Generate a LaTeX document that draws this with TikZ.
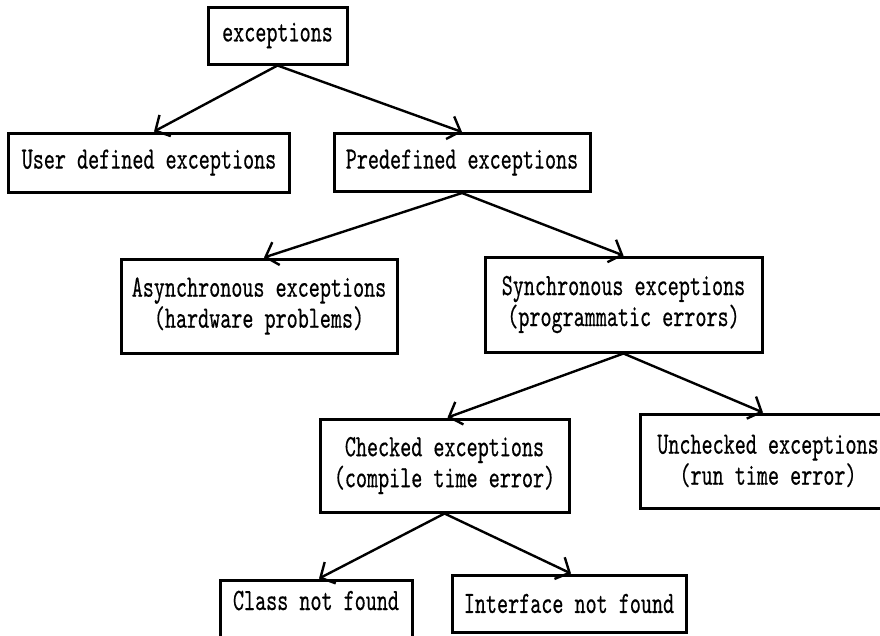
\documentclass[tikz,border=0pt]{standalone}
\usepackage{fontspec}
\usetikzlibrary{arrows.meta}
\newfontfamily\boxfont[FakeStretch=0.68,FakeBold=0.4]{lmmono10-regular.otf}

\begin{document}
\begin{tikzpicture}[x=1pt,y=-1pt,
  box/.style={draw=black, line width=3pt, fill=white, align=center,
    inner sep=0pt, font=\boxfont\fontsize{31}{31}\selectfont},
  link/.style={line width=2.4pt, -{Straight Barb[length=11pt,width=24pt,line width=2.4pt]}}]
  \useasboundingbox[fill=white] (0,0) rectangle (880,635);

  % level 0
  \node[box, minimum width=139pt, minimum height=57pt] (exc) at (277.5,35.5) {exceptions};

  % level 1
  \node[box, minimum width=281pt, minimum height=59pt] (user) at (149,162.5) {User defined exceptions};
  \node[box, minimum width=256pt, minimum height=58pt] (pre) at (462,162.5) {Predefined exceptions};

  % level 2
  \node[box, minimum width=276pt, minimum height=94pt] (async) at (259,306)
    {Asynchronous exceptions\\(hardware problems)};
  \node[box, minimum width=277pt, minimum height=95pt] (sync) at (623.5,304.5)
    {Synchronous exceptions\\(programmatic errors)};

  % level 3
  \node[box, minimum width=249pt, minimum height=93pt] (checked) at (444.5,465.5)
    {Checked exceptions\\(compile time error)};
  \node[box, minimum width=256pt, minimum height=94pt] (unchecked) at (768,461)
    {Unchecked exceptions\\(run time error)};

  % level 4
  \node[box, minimum width=192pt, text height=30pt, text depth=50pt, anchor=base]
    (class) at (316,610) {Class not found};
  \node[box, minimum width=234pt, minimum height=57pt] (iface) at (569,603.5)
    {Interface not found};

  % connectors
  \draw[link] (exc.south) -- ([xshift=5pt]user.north);
  \draw[link] (exc.south) -- (pre.north);
  \draw[link] (pre.south) -- ([xshift=5pt]async.north);
  \draw[link] (pre.south) -- (sync.north);
  \draw[link] (sync.south) -- ([xshift=3pt]checked.north);
  \draw[link] (sync.south) -- ([xshift=-5pt]unchecked.north);
  \draw[link] (checked.south) -- ([xshift=3pt]class.north);
  \draw[link] (checked.south) -- ([xshift=2pt]iface.north);
\end{tikzpicture}
\end{document}
